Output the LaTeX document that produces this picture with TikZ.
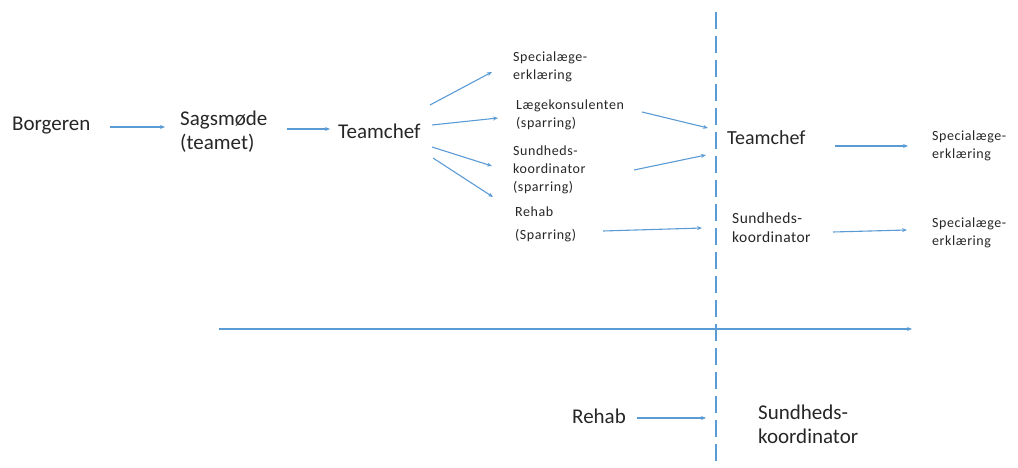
\documentclass[tikz,border=0pt]{standalone}
\usepackage{fontspec}
\setmainfont{Carlito}
\usetikzlibrary{arrows.meta}
\definecolor{lblue}{HTML}{5B9BD5}
\definecolor{txt}{HTML}{262626}
\tikzset{
  big/.style={font=\fontsize{21}{24}\selectfont, text=txt, inner sep=0pt, anchor=west, align=left},
  mid/.style={font=\fontsize{15.5}{19}\selectfont\addfontfeatures{LetterSpace=3}, text=txt, inner sep=0pt, anchor=west, align=left},
  small/.style={font=\fontsize{14}{18}\selectfont\addfontfeatures{LetterSpace=4}, text=txt, inner sep=0pt, anchor=west, align=left},
  conn/.style={draw=lblue, line width=1.1pt, -{Stealth[length=5pt,width=4pt]}},
  divider/.style={draw=lblue, line width=1.4pt, dash pattern=on 17pt off 7pt}
}
\begin{document}
\begin{tikzpicture}[x=1pt,y=-1pt]
\useasboundingbox (0,0) rectangle (1018,468);
% nodes
\node[big] (borg) at (12,126) {Borgeren};
\node[big] (sag) at (180,132) {Sagsmøde\\(teamet)};
\node[big] (tc1) at (338,131) {Teamchef};
\node[small] (spec1) at (513,67) {Specialæge-\\erklæring};
\node[small] (laege) at (516,115) {Lægekonsulenten\\(sparring)};
\node[small] (sund1) at (513,170) {Sundheds-\\koordinator\\(sparring)};
\node[small] (rehab1) at (515,224) {Rehab\\\rule{0pt}{22pt}(Sparring)};
\node[big] (tc2) at (727,138) {\fontsize{20}{24}\selectfont Teamchef};
\node[mid] (sund2) at (732,228) {Sundheds-\\koordinator};
\node[small] (spec2) at (932,146) {Specialæge-\\erklæring};
\node[small] (spec3) at (932,233) {Specialæge-\\erklæring};
\node[big] (rehab2) at (572,416) {Rehab};
\node[big] (sund3) at (758,424) {Sundheds-\\koordinator};
% connector end points
\coordinate (a1) at (110,127); \coordinate (a2) at (165,127);
\coordinate (b1) at (287,129); \coordinate (b2) at (330,129);
\coordinate (c1) at (430,105); \coordinate (c2) at (492,72);
\coordinate (d1) at (432,125); \coordinate (d2) at (498,118);
\coordinate (e1) at (432,147); \coordinate (e2) at (492,166);
\coordinate (f1) at (433,158); \coordinate (f2) at (493,197);
\coordinate (g1) at (642,112); \coordinate (g2) at (708,128);
\coordinate (h1) at (634,170); \coordinate (h2) at (706,155);
\coordinate (i1) at (603,231); \coordinate (i2) at (702,228);
\coordinate (j1) at (835,146); \coordinate (j2) at (908,146);
\coordinate (k1) at (833,232); \coordinate (k2) at (907,230);
\coordinate (l1) at (219,329); \coordinate (l2) at (912,329);
\coordinate (m1) at (637,418); \coordinate (m2) at (706,418);
\coordinate (v1) at (716,12); \coordinate (v2) at (716,468);
% connectors
\draw[conn] (a1) -- (a2);
\draw[conn] (b1) -- (b2);
\draw[conn] (c1) -- (c2);
\draw[conn] (d1) -- (d2);
\draw[conn] (e1) -- (e2);
\draw[conn] (f1) -- (f2);
\draw[conn] (g1) -- (g2);
\draw[conn] (h1) -- (h2);
\draw[conn] (i1) -- (i2);
\draw[conn] (j1) -- (j2);
\draw[conn] (k1) -- (k2);
\draw[conn] (l1) -- (l2);
\draw[conn] (m1) -- (m2);
\draw[divider] (v1) -- (v2);
\end{tikzpicture}
\end{document}
